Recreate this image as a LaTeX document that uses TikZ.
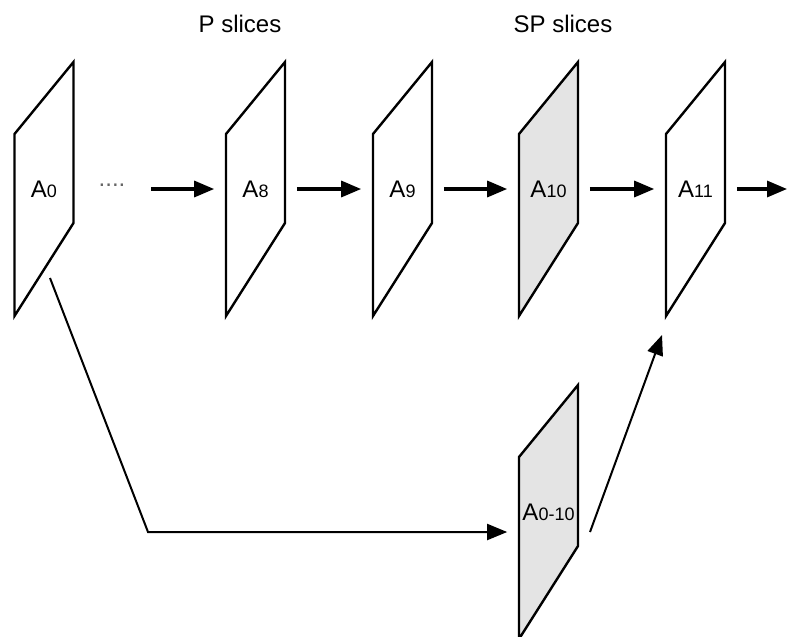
\documentclass[tikz,border=0pt]{standalone}
\usepackage{fontspec}
\setmainfont{Liberation Sans}
\usetikzlibrary{arrows.meta}
\definecolor{spgray}{RGB}{228,228,228}
\newcommand\sliceidx[1]{{\fontsize{13.5}{14}\selectfont #1}}
\tikzset{
 slice/.style={minimum width=44pt, inner xsep=0pt, outer xsep=9pt},
 flow/.style={->, line width=2.4pt},
 link/.style={->, line width=1.5pt}
}
\begin{document}
\begin{tikzpicture}[x=0.75pt, y=-0.75pt, font=\fontsize{18}{22}\selectfont, >={Triangle[length=15pt,width=12pt]}]
 \useasboundingbox (0,0) rectangle (787,636);
 \node (plabel) at (240,24) {P slices};
 \node (splabel) at (563,24) {SP slices};
 \foreach \n/\x/\y/\f/\t in {a0/44/189/white/0, a8/255.5/189/white/8, a9/402.5/189/white/9, a10/548.5/189/spgray/10, a11/695.5/189/white/11, a010/548.5/512/spgray/0-10}{
  \filldraw[fill=\f, line width=1.8pt] (\x-29.5,\y-55) -- (\x+29.5,\y-127) -- (\x+29.5,\y+34) -- (\x-29.5,\y+127) -- cycle;
  \node[slice] (\n) at (\x,\y) {A\sliceidx{\t}};
 }
 \node[text=black!60] (dots) at (112,185) {....};
 \coordinate (exit) at (787,189);
 \draw[flow] ([xshift=16pt]dots.east |- a8) -- (a8);
 \draw[flow] (a8) -- (a9);
 \draw[flow] (a9) -- (a10);
 \draw[flow] (a10) -- (a11);
 \draw[flow] (a11) -- (exit);
 \coordinate (a0foot) at (50,278);
 \coordinate (bend) at (148,532);
 \coordinate (a010foot) at (590,532);
 \coordinate (a11foot) at (662,335);
 \draw[link] (a0foot) -- (bend) -- (bend -| a010.west);
 \draw[link] (a010foot) -- (a11foot);
\end{tikzpicture}
\end{document}
